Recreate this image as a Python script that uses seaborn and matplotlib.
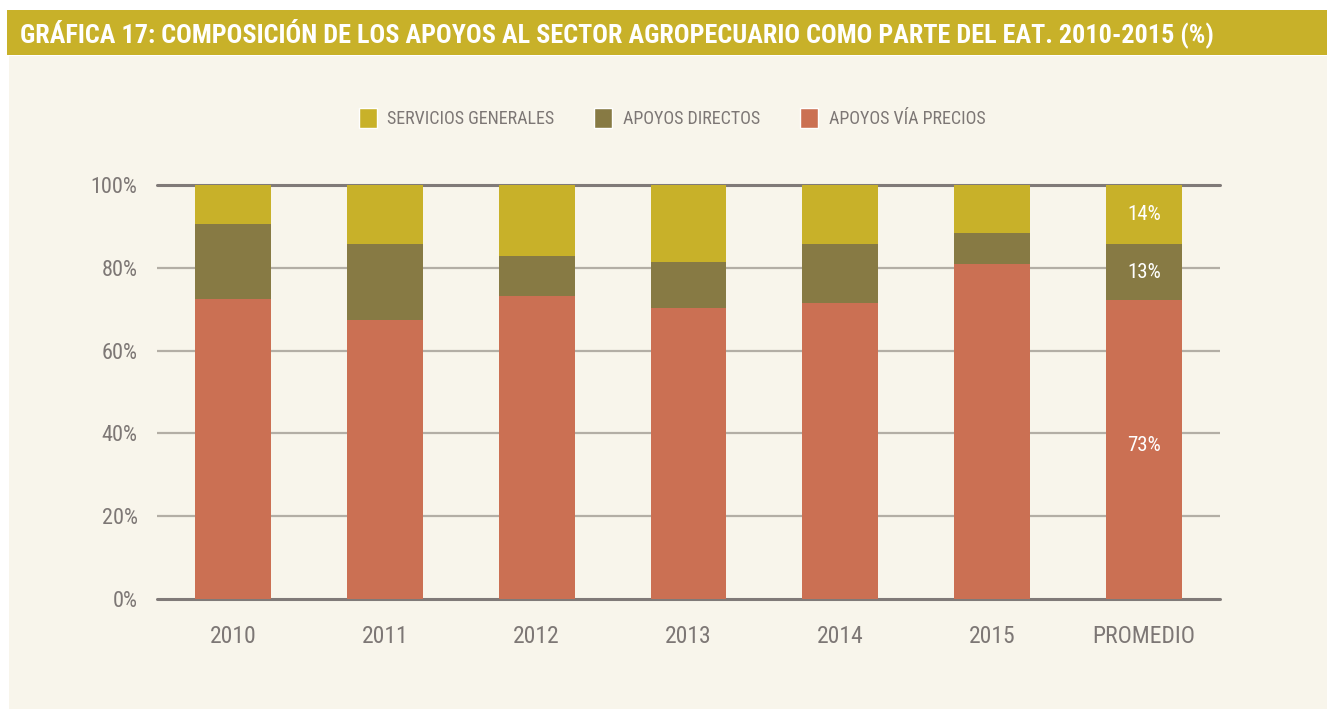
import matplotlib
matplotlib.use('Agg')
import matplotlib.pyplot as plt
from matplotlib.patches import Rectangle, Patch
import seaborn as sns
import pandas as pd

# ===== DATA =====
years = ['2010', '2011', '2012', '2013', '2014', '2015', 'PROMEDIO']
apoyos_precios = [72.5, 67.4, 73.2, 70.3, 71.5, 80.9, 72.2]
apoyos_directos = [18.1, 18.3, 9.7, 11.1, 14.2, 7.5, 13.5]
servicios_generales = [9.4, 14.3, 17.1, 18.6, 14.3, 11.6, 14.3]
promedio_labels = ['73%', '13%', '14%']  # precios, directos, servicios
y_ticks = [0, 20, 40, 60, 80, 100]
# ================

COL_SERV = '#C8B129'
COL_DIR = '#877A44'
COL_PREC = '#CB7053'
BG = '#F8F5EB'
TXT = '#7D7775'
FONT = ['Roboto Condensed', 'Liberation Sans Narrow', 'DejaVu Sans']

sns.set_style('white')
plt.rcParams['font.family'] = FONT

df = pd.DataFrame({'year': years, 'precios': apoyos_precios,
                   'directos': apoyos_directos, 'servicios': servicios_generales})
df['base_dir'] = df['precios']
df['base_serv'] = df['precios'] + df['directos']

fig = plt.figure(figsize=(13.27, 7.09), dpi=100)
fig.patch.set_facecolor('white')

# cream panel + title bar
fig.patches.append(Rectangle((9 / 1327, 0), 1, 1 - 56 / 709, transform=fig.transFigure,
                             facecolor=BG, edgecolor='none', zorder=-10))
fig.patches.append(Rectangle((7 / 1327, 1 - 55 / 709), 1, 45 / 709, transform=fig.transFigure,
                             facecolor=COL_SERV, edgecolor='none', zorder=-5))
title = fig.text(20 / 1327, 1 - 33 / 709,
                 'GRÁFICA 17: COMPOSICIÓN DE LOS APOYOS AL SECTOR AGROPECUARIO COMO PARTE DEL EAT. 2010-2015 (%)',
                 color='white', fontsize=20, fontweight='bold', va='center', ha='left')
# shrink title so it ends where the reference's does
renderer = fig.canvas.get_renderer()
w = title.get_window_extent(renderer).width
if w > 1190:
    title.set_fontsize(20 * 1190 / w)

ax = fig.add_axes([157 / 1327, 1 - 599 / 709, 1063 / 1327, 414 / 709])
ax.set_facecolor('none')

sns.barplot(data=df, x='year', y='precios', color=COL_PREC, saturation=1,
            width=0.5, ax=ax, zorder=3, linewidth=0)
sns.barplot(data=df, x='year', y='directos', bottom=df['base_dir'], color=COL_DIR,
            saturation=1, width=0.5, ax=ax, zorder=3, linewidth=0)
sns.barplot(data=df, x='year', y='servicios', bottom=df['base_serv'], color=COL_SERV,
            saturation=1, width=0.5, ax=ax, zorder=3, linewidth=0)

ax.set_xlim(-0.5, len(years) - 0.5)
ax.set_ylim(0, 100)
for v in y_ticks:
    if v in (0, 100):
        ax.axhline(v, color='#807A78', lw=2.2, zorder=2, clip_on=False)
    else:
        ax.axhline(v, color='#B3AEA5', lw=1.6, zorder=1)

ax.set_yticks(y_ticks)
ax.set_yticklabels([f'{v}%' for v in y_ticks])
ax.tick_params(axis='y', length=0, pad=14, labelsize=16, labelcolor=TXT)
ax.tick_params(axis='x', length=0, pad=19, labelsize=17, labelcolor=TXT)
ax.set_xlabel('')
ax.set_ylabel('')
sns.despine(ax=ax, left=True, bottom=True)

# value labels on the average bar
i = len(years) - 1
p, d, s = apoyos_precios[i], apoyos_directos[i], servicios_generales[i]
for yv, lab in zip([p / 2 + 1, p + d / 2, p + d + s / 2], promedio_labels):
    ax.text(i, yv, lab, color='white', fontsize=15, ha='center', va='center', zorder=5)

handles = [Patch(facecolor=COL_SERV, label='SERVICIOS GENERALES'),
           Patch(facecolor=COL_DIR, label='APOYOS DIRECTOS'),
           Patch(facecolor=COL_PREC, label='APOYOS VÍA PRECIOS')]
leg = fig.legend(handles=handles, loc='center', bbox_to_anchor=(672 / 1327, 1 - 118 / 709),
                 ncol=3, frameon=False, fontsize=13, handlelength=1.0, handleheight=1.3,
                 handletextpad=0.6, columnspacing=2.2)
for t in leg.get_texts():
    t.set_color(TXT)

fig.savefig('out.png', dpi=100, facecolor='white')
